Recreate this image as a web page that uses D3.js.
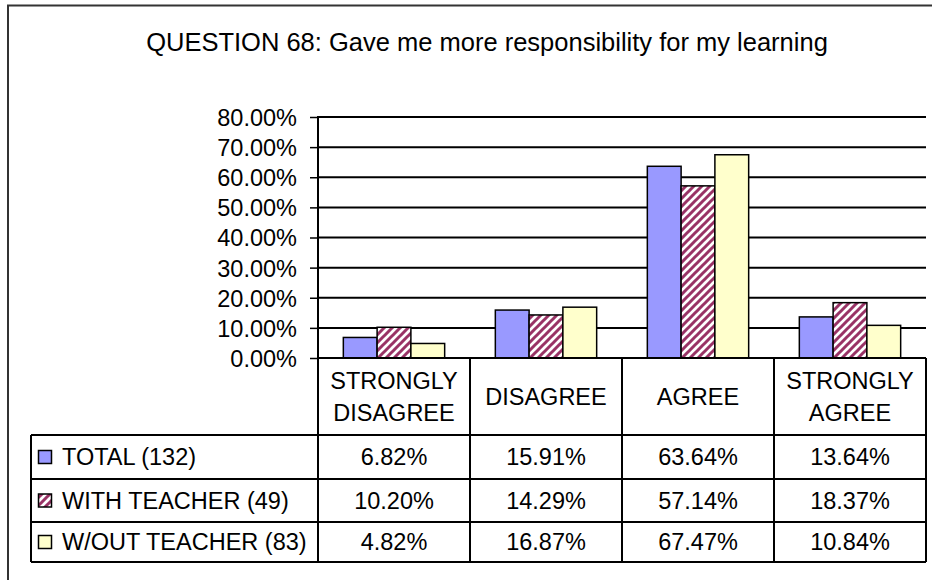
<!DOCTYPE html>
<html>
<head>
<meta charset="utf-8">
<script src="https://cdn.jsdelivr.net/npm/d3@7"></script>
<style>
	body { margin: 0; background: #fff; }
	text { font-family: "Liberation Sans", Arial, sans-serif; fill: #000; }
</style>
</head>
<body>
<div id="chart"></div>
<script>
// Data
const title = "QUESTION 68: Gave me more responsibility for my learning";
const categories = [["STRONGLY", "DISAGREE"], ["DISAGREE"], ["AGREE"], ["STRONGLY", "AGREE"]];
const seriesNames = ["TOTAL (132)", "WITH TEACHER (49)", "W/OUT TEACHER (83)"];
const totalValues = [6.82, 15.91, 63.64, 13.64];
const withTeacherValues = [10.20, 14.29, 57.14, 18.37];
const withoutTeacherValues = [4.82, 16.87, 67.47, 10.84];
const yTicks = [0, 10, 20, 30, 40, 50, 60, 70, 80];

const seriesValues = [totalValues, withTeacherValues, withoutTeacherValues];
const seriesFills = ["#9999ff", "url(#hatch)", "#ffffcc"];

// Dimensions
const W = 932, H = 580;
const plot = {left: 318, right: 926, top: 117, bottom: 358};
const tableLeft = 31;
const headerBottom = 435;
const rowEdges = [435, 479, 522, 562];
const fontSize = 23.5;

const svg = d3.select("#chart").append("svg")
	.attr("width", W)
	.attr("height", H);

// hatch pattern for the "with teacher" series
const defs = svg.append("defs");
const pat = defs.append("pattern")
	.attr("id", "hatch")
	.attr("patternUnits", "userSpaceOnUse")
	.attr("width", 8)
	.attr("height", 8);
pat.append("rect").attr("width", 8).attr("height", 8).attr("fill", "#fff");
pat.append("path")
	.attr("d", "M-2,10 L10,-2 M-6,6 L6,-6 M2,14 L14,2")
	.attr("stroke", "#993366")
	.attr("stroke-width", 3);

// Outer frame
svg.append("path")
	.attr("d", "M8,580 L8,5.5 L935,5.5")
	.attr("fill", "none")
	.attr("stroke", "#333")
	.attr("stroke-width", 2);

// Title
svg.append("text")
	.attr("x", 487)
	.attr("y", 51)
	.attr("text-anchor", "middle")
	.style("font-size", "25.5px")
	.text(title);

// Scales
const x = d3.scaleBand()
	.domain(d3.range(categories.length))
	.range([plot.left, plot.right]);
const inner = d3.scaleBand()
	.domain(d3.range(seriesNames.length))
	.range([0, x.bandwidth()])
	.paddingOuter(0.75)
	.paddingInner(0);
const y = d3.scaleLinear()
	.domain([0, 80])
	.range([plot.bottom, plot.top]);

// Gridlines
svg.append("g")
	.selectAll("line")
	.data(yTicks.filter(d => d > 0))
	.join("line")
	.attr("x1", plot.left)
	.attr("x2", plot.right)
	.attr("y1", d => y(d))
	.attr("y2", d => y(d))
	.attr("stroke", "#000")
	.attr("stroke-width", 2);

// Y axis
const yAxis = d3.axisLeft(y)
	.tickValues(yTicks)
	.tickSize(8)
	.tickPadding(13)
	.tickFormat(d => d.toFixed(2) + "%");
const gy = svg.append("g")
	.attr("transform", "translate(" + plot.left + ",0)")
	.call(yAxis);
gy.select(".domain").remove();
gy.selectAll(".tick line").attr("stroke", "#000").attr("stroke-width", 1.5);
gy.selectAll(".tick text")
	.style("font-size", fontSize + "px")
	.style("font-family", "'Liberation Sans', Arial, sans-serif")
	.attr("fill", "#000")
	.attr("dy", "0.36em");
svg.append("line")
	.attr("x1", plot.left).attr("x2", plot.left)
	.attr("y1", plot.top - 1).attr("y2", plot.bottom)
	.attr("stroke", "#000").attr("stroke-width", 2);

// Bars
seriesValues.forEach((vals, s) => {
	svg.append("g")
		.selectAll("rect")
		.data(vals)
		.join("rect")
		.attr("x", (d, i) => x(i) + inner(s))
		.attr("y", d => y(d))
		.attr("width", inner.bandwidth())
		.attr("height", d => plot.bottom - y(d))
		.attr("fill", seriesFills[s])
		.attr("stroke", "#000")
		.attr("stroke-width", 1.5);
});

// Data table
const table = svg.append("g");
// horizontal lines
table.append("line")
	.attr("x1", plot.left).attr("x2", plot.right)
	.attr("y1", plot.bottom).attr("y2", plot.bottom)
	.attr("stroke", "#000").attr("stroke-width", 2);
rowEdges.forEach(ry => {
	table.append("line")
		.attr("x1", tableLeft).attr("x2", plot.right)
		.attr("y1", ry).attr("y2", ry)
		.attr("stroke", "#000").attr("stroke-width", 2);
});
// vertical lines
table.append("line")
	.attr("x1", tableLeft).attr("x2", tableLeft)
	.attr("y1", rowEdges[0]).attr("y2", rowEdges[rowEdges.length - 1])
	.attr("stroke", "#000").attr("stroke-width", 2);
d3.range(categories.length + 1).forEach(i => {
	const xx = i < categories.length ? x(i) : plot.right;
	table.append("line")
		.attr("x1", xx).attr("x2", xx)
		.attr("y1", plot.bottom).attr("y2", rowEdges[rowEdges.length - 1])
		.attr("stroke", "#000").attr("stroke-width", 2);
});

// category headers
categories.forEach((lines, i) => {
	const cx = x(i) + x.bandwidth() / 2;
	const cy = (plot.bottom + headerBottom) / 2;
	const lh = 32;
	lines.forEach((ln, j) => {
		table.append("text")
			.attr("x", cx)
			.attr("y", cy + (j - (lines.length - 1) / 2) * lh)
			.attr("dy", "0.36em")
			.attr("text-anchor", "middle")
			.style("font-size", fontSize + "px")
			.text(ln);
	});
});

// rows
seriesNames.forEach((name, s) => {
	const cy = (rowEdges[s] + rowEdges[s + 1]) / 2;
	table.append("rect")
		.attr("x", 38.5)
		.attr("y", cy - 6.5)
		.attr("width", 13)
		.attr("height", 13)
		.attr("fill", seriesFills[s])
		.attr("stroke", "#000")
		.attr("stroke-width", 1.5);
	table.append("text")
		.attr("x", 62)
		.attr("y", cy)
		.attr("dy", "0.36em")
		.style("font-size", fontSize + "px")
		.text(name);
	seriesValues[s].forEach((v, i) => {
		table.append("text")
			.attr("x", x(i) + x.bandwidth() / 2)
			.attr("y", cy)
			.attr("dy", "0.36em")
			.attr("text-anchor", "middle")
			.style("font-size", fontSize + "px")
			.text(v.toFixed(2) + "%");
	});
});
</script>
</body>
</html>
